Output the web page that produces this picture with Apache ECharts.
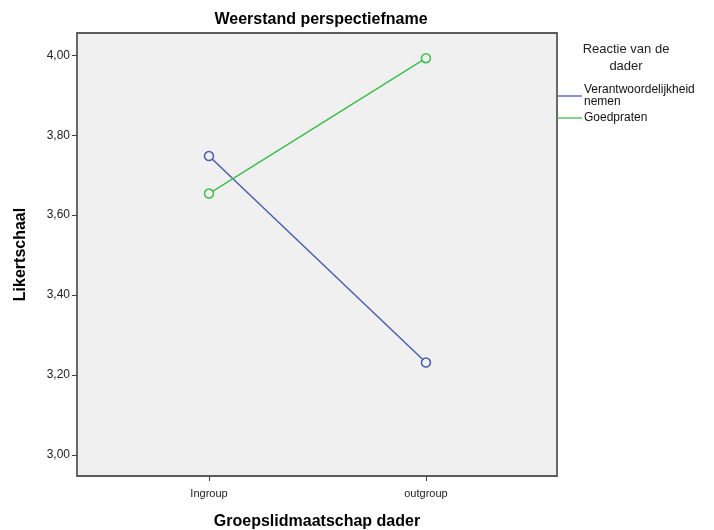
<!DOCTYPE html>
<html><head><meta charset="utf-8">
<script src="https://cdn.jsdelivr.net/npm/echarts@6/dist/echarts.min.js"></script>
<style>html,body{margin:0;padding:0;background:#fff}#c{width:714px;height:530px}</style>
</head><body><div id="c"></div>
<script>
const categories = ['Ingroup', 'outgroup'];
const categoryPos = [1, 2];
const verantwoordelijkheid = [3.748, 3.231];
const goedpraten = [3.654, 3.993];
const yTicks = [3.0, 3.2, 3.4, 3.6, 3.8, 4.0];
const seriesNames = ['Verantwoordelijkheid\nnemen', 'Goedpraten'];
const colors = ['#4a5fb0', '#3dbf4c'];

const font = 'Liberation Sans, Arial, sans-serif';
const chart = echarts.init(document.getElementById('c'));
chart.setOption({
  animation: false,
  backgroundColor: '#fff',
  textStyle: { fontFamily: font },
  title: [
    { text: 'Weerstand perspectiefname', left: 316, top: 7, textAlign: 'center',
      textStyle: { fontSize: 16, fontWeight: 'bold', color: '#000', fontFamily: font } },
    { text: 'Reactie van de\ndader', left: 621, top: 36, textAlign: 'center',
      textStyle: { fontSize: 13, fontWeight: 'normal', color: '#222', lineHeight: 17, fontFamily: font } }
  ],
  legend: {
    left: 557, top: 84, orient: 'vertical', itemGap: 4, padding: 0,
    icon: 'rect', itemWidth: 25, itemHeight: 1.3,
    textStyle: { fontSize: 12, color: '#111', lineHeight: 12, padding: [0,0,0,-3], fontFamily: font },
    data: seriesNames.map((n, i) => ({ name: n, itemStyle: { color: colors[i], borderWidth: 0 } }))
  },
  grid: { left: 77, top: 33, right: 157, bottom: 54, show: true, outerBoundsMode: 'none', containLabel: false,
          backgroundColor: '#f0f0f0', borderColor: '#5a5a5a', borderWidth: 1.8 },
  xAxis: {
    type: 'value', min: 0.3916, max: 2.604,
    name: 'Groepslidmaatschap dader', nameLocation: 'middle', nameGap: 38,
    nameTextStyle: { fontSize: 16, fontWeight: 'bold', color: '#000', fontFamily: font },
    axisLine: { show: false },
    splitLine: { show: false },
    axisTick: { show: true, customValues: categoryPos, length: 5, lineStyle: { color: '#444' } },
    axisLabel: { customValues: categoryPos, margin: 12, fontSize: 11, color: '#222',
      formatter: v => categories[categoryPos.indexOf(Math.round(v))] || '' }
  },
  yAxis: {
    type: 'value', min: 2.947, max: 4.056,
    name: 'Likertschaal', nameLocation: 'middle', nameGap: 48, nameRotate: 90,
    nameTextStyle: { fontSize: 16, fontWeight: 'bold', color: '#000', fontFamily: font },
    axisLine: { show: false },
    splitLine: { show: false },
    axisTick: { show: true, customValues: yTicks, length: 5, lineStyle: { color: '#444' } },
    axisLabel: { customValues: yTicks, margin: 7, fontSize: 12, color: '#222',
      formatter: v => v.toFixed(2).replace('.', ',') }
  },
  series: [
    { name: seriesNames[0], type: 'line', data: categoryPos.map((x, i) => [x, verantwoordelijkheid[i]]),
      color: colors[0], symbol: 'circle', symbolSize: 9,
      lineStyle: { width: 1.5, color: colors[0] },
      itemStyle: { color: '#f0f0f0', borderColor: colors[0], borderWidth: 1.5 } },
    { name: seriesNames[1], type: 'line', data: categoryPos.map((x, i) => [x, goedpraten[i]]),
      color: colors[1], symbol: 'circle', symbolSize: 9,
      lineStyle: { width: 1.5, color: colors[1] },
      itemStyle: { color: '#f0f0f0', borderColor: colors[1], borderWidth: 1.5 } }
  ]
});
</script></body></html>
